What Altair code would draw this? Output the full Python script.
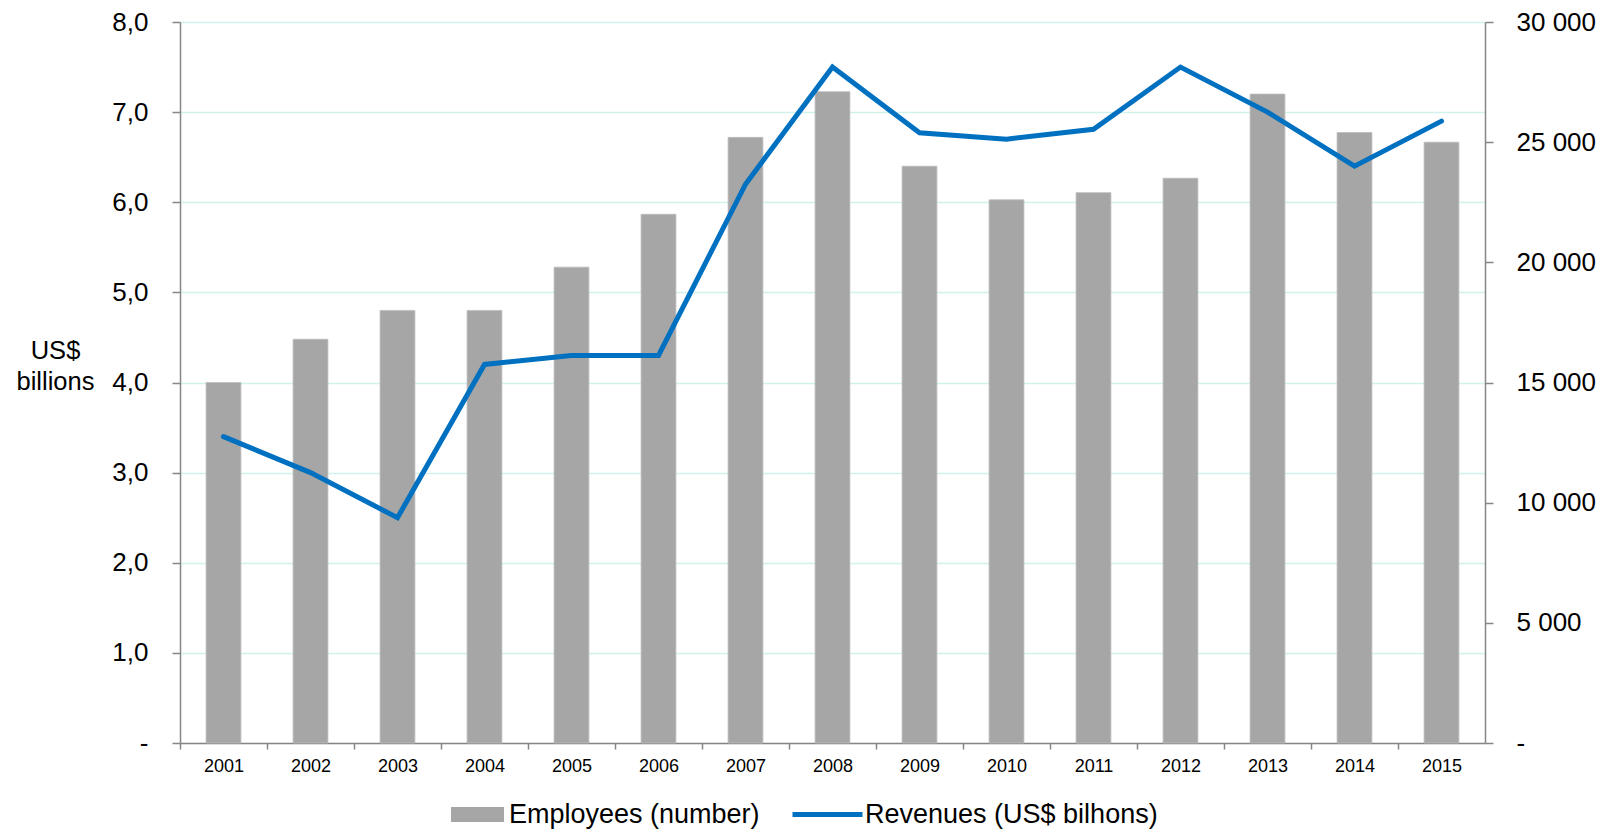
import altair as alt
import pandas as pd

years = ["2001", "2002", "2003", "2004", "2005", "2006", "2007", "2008",
         "2009", "2010", "2011", "2012", "2013", "2014", "2015"]
employees = [15000, 16800, 18000, 18000, 19800, 22000, 25200, 27100,
             24000, 22600, 22900, 23500, 27000, 25400, 25000]
revenues = [3.4, 3.0, 2.5, 4.2, 4.3, 4.3, 6.2, 7.5,
            6.77, 6.7, 6.81, 7.5, 7.0, 6.4, 6.9]

emp_label = "Employees (number)"
rev_label = "Revenues (US$ bilhons)"

df = pd.DataFrame({
    "year": years,
    "employees": employees,
    "revenues": revenues,
    "emp_series": [emp_label] * len(years),
    "rev_series": [rev_label] * len(years),
})

FONT = "Liberation Sans"
AX = "#868686"
GRID = "#D0F2EA"

x_enc = alt.X(
    "year:N",
    sort=years,
    scale=alt.Scale(paddingInner=0.6, paddingOuter=0.3),
    axis=alt.Axis(
        title=None, labelAngle=0, tickOffset=-43.5, labelOffset=43.5, tickSize=6,
        labelPadding=8, labelFontSize=18, labelFont=FONT, labelColor="black",
        domainColor=AX, domainWidth=1.5, tickColor=AX, tickWidth=1.5, grid=False,
    ),
)

bars = alt.Chart(df).mark_bar(stroke="#BDBDBD", strokeWidth=0.8).encode(
    x=x_enc,
    y=alt.Y(
        "employees:Q",
        scale=alt.Scale(domain=[0, 30000], nice=False),
        axis=alt.Axis(
            orient="right", title=None, values=[0, 5000, 10000, 15000, 20000, 25000, 30000],
            labelExpr="datum.value == 0 ? '-' : replace(format(datum.value, ','), ',', ' ')",
            labelFontSize=26, labelFont=FONT, labelColor="black", labelPadding=23,
            tickSize=8, tickColor=AX, tickWidth=1.5, domainColor=AX, domainWidth=1.5,
            grid=False,
        ),
    ),
    color=alt.Color(
        "emp_series:N",
        scale=alt.Scale(domain=[emp_label], range=["#A6A6A6"]),
        legend=alt.Legend(
            title=None, orient="none", legendX=271, legendY=766, padding=0,
            symbolType="M-1,-0.28L1,-0.28L1,0.28L-1,0.28Z", symbolSize=2809,
            symbolStrokeWidth=0, labelFontSize=27, labelFont=FONT, labelColor="black",
            labelOffset=5, labelLimit=600,
        ),
    ),
)

line = alt.Chart(df).mark_line(strokeWidth=5, strokeCap="round", strokeJoin="miter").encode(
    x=x_enc,
    y=alt.Y(
        "revenues:Q",
        scale=alt.Scale(domain=[0, 8], nice=False),
        axis=alt.Axis(
            orient="left", values=[0, 1, 2, 3, 4, 5, 6, 7, 8],
            labelExpr="datum.value == 0 ? '-\u2007' : replace(format(datum.value, '.1f'), '.', ',')",
            labelFontSize=26, labelFont=FONT, labelColor="black", labelPadding=24,
            tickSize=8, tickColor=AX, tickWidth=1.5, domainColor=AX, domainWidth=1.5,
            grid=True, gridColor=GRID, gridWidth=1.5,
            title=["US$", "billions"], titleAngle=0, titleAlign="center",
            titleBaseline="alphabetic", titleX=-125, titleY=336, titleLineHeight=31,
            titleFontSize=25.5, titleFont=FONT, titleFontWeight="normal", titleColor="black",
        ),
    ),
    stroke=alt.Stroke(
        "rev_series:N",
        scale=alt.Scale(domain=[rev_label], range=["#0070C0"]),
        legend=alt.Legend(
            title=None, orient="none", legendX=610, legendY=755, padding=0,
            symbolType="M-1,0L1,0", symbolSize=4900, symbolStrokeWidth=5,
            labelFontSize=27, labelFont=FONT, labelColor="black", labelOffset=0,
            labelLimit=600,
        ),
    ),
)

chart = alt.layer(bars, line).resolve_scale(y="independent").properties(
    width=1305,
    height=721,
    autosize=alt.AutoSizeParams(type="none"),
    padding={"left": 180, "top": 22, "right": 129, "bottom": 89},
    background="white",
).configure_view(stroke=None)

chart.save("out.html", embed_options={"renderer": "svg", "actions": False})
